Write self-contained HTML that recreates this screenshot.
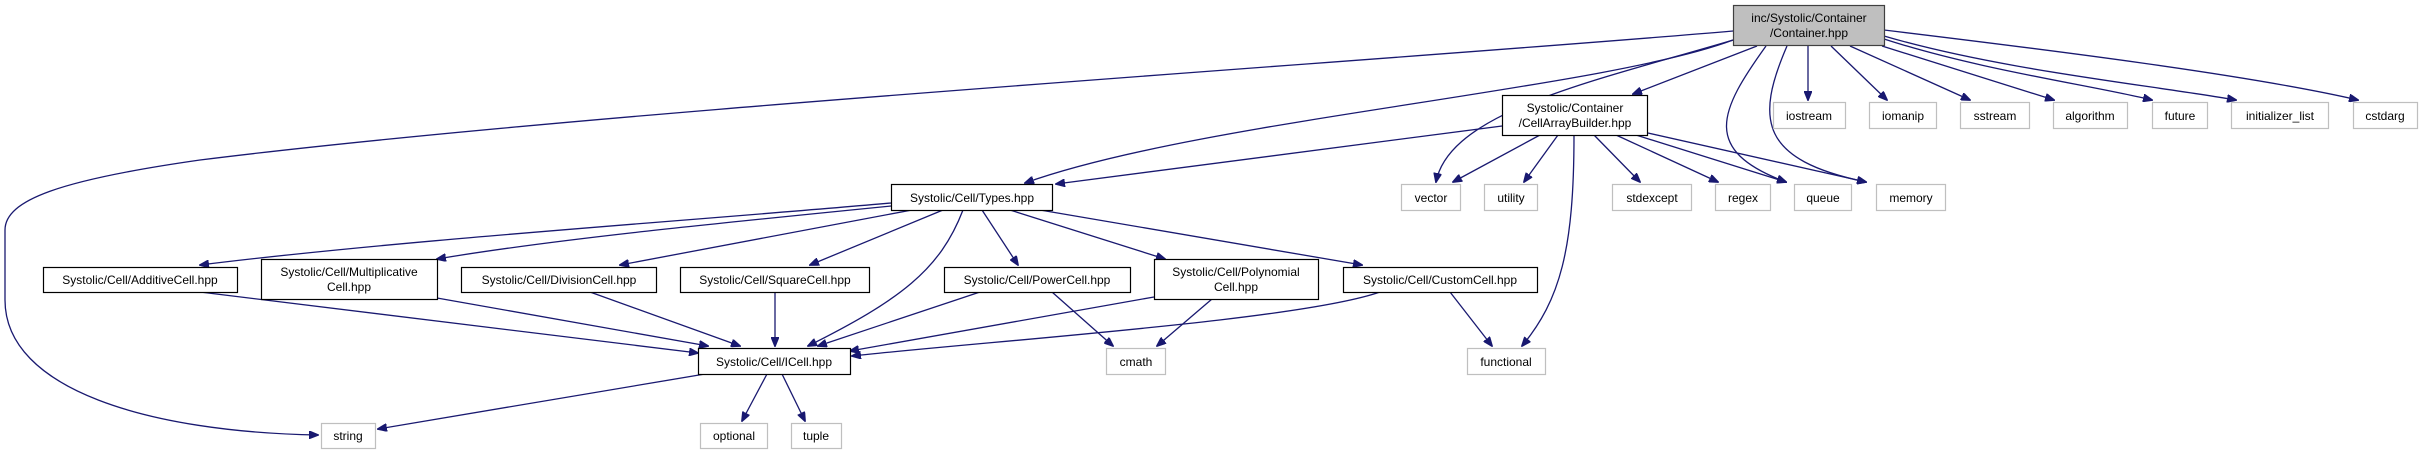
<!DOCTYPE html>
<html><head><meta charset="utf-8"><style>
html,body{margin:0;padding:0;background:#fff;}
svg{display:block;}
text{font-family:"Liberation Sans",sans-serif;font-size:12px;fill:#000;}
</style></head><body>
<svg width="2423" height="455" viewBox="0 0 2423 455" xmlns="http://www.w3.org/2000/svg">
<defs>
<marker id="a" markerWidth="10" markerHeight="8" refX="9" refY="4" orient="auto" markerUnits="userSpaceOnUse">
<path d="M0,0 L10,4 L0,8 z" fill="#191970" stroke="#191970"/>
</marker>
</defs>
<g fill="none" stroke="#191970" stroke-width="1.3" marker-end="url(#a)">
<!-- Container edges -->
<path d="M1733,31 C1400,60 600,110 200,160 C60,180 5,200 5,230 L5,300 C5,390 150,432 318,435"/>
<path d="M1733,40 C1600,90 1200,120 1025,183"/>
<path d="M1740,38 C1600,80 1450,110 1436,182"/>
<path d="M1757,46 L1633,94"/>
<path d="M1766,46 C1720,110 1700,150 1786,182"/>
<path d="M1787,46 C1755,120 1760,160 1866,182"/>
<path d="M1808,46 L1808,100"/>
<path d="M1831,46 L1887,100"/>
<path d="M1850,46 L1970,100"/>
<path d="M1882,46 L2054,100"/>
<path d="M1884,39 C1980,70 2090,85 2152,100"/>
<path d="M1884,36 C2000,70 2150,85 2236,100"/>
<path d="M1884,30 C2050,50 2250,75 2358,100"/>
<!-- CellArrayBuilder edges -->
<path d="M1502,126 L1056,184"/>
<path d="M1540,135 L1453,182"/>
<path d="M1558,135 L1524,182"/>
<path d="M1574,135 C1574,250 1560,300 1522,346"/>
<path d="M1594,135 L1640,182"/>
<path d="M1616,135 L1718,182"/>
<path d="M1636,135 L1786,182"/>
<path d="M1648,133 L1866,182"/>
<!-- Types edges -->
<path d="M891,203 C700,220 400,240 200,265"/>
<path d="M891,206 C700,225 550,240 437,259"/>
<path d="M912,210 L620,265"/>
<path d="M943,210 L810,265"/>
<path d="M963,210 C940,270 900,300 808,346"/>
<path d="M982,210 L1018,265"/>
<path d="M1010,210 L1165,259"/>
<path d="M1040,210 L1362,265"/>
<!-- to ICell -->
<path d="M200,292 L698,353"/>
<path d="M437,298 L708,346"/>
<path d="M590,292 L740,346"/>
<path d="M775,292 L775,346"/>
<path d="M980,292 L818,346"/>
<path d="M1154,297 L850,351"/>
<path d="M1380,292 C1300,320 1000,340 852,356"/>
<path d="M1052,292 L1113,346"/>
<path d="M1212,299 L1157,346"/>
<path d="M1450,292 L1492,346"/>
<!-- ICell out -->
<path d="M705,374 L378,429"/>
<path d="M767,374 L742,421"/>
<path d="M782,374 L805,421"/>
</g>
<!-- nodes -->
<g stroke="#000" stroke-width="1.2" fill="#fff">
<rect x="1733.5" y="5.5" width="151" height="40" fill="#bfbfbf" stroke="#404040"/>
<rect x="1502.5" y="95.5" width="145" height="40"/>
<rect x="891.5" y="184.5" width="161" height="26"/>
<rect x="43.5" y="267.5" width="194" height="25"/>
<rect x="261.5" y="259.5" width="176" height="40"/>
<rect x="461.5" y="267.5" width="195" height="25"/>
<rect x="680.5" y="267.5" width="189" height="25"/>
<rect x="944.5" y="267.5" width="186" height="25"/>
<rect x="1154.5" y="259.5" width="164" height="40"/>
<rect x="1343.5" y="267.5" width="194" height="25"/>
<rect x="698.5" y="348.5" width="152" height="26"/>
</g>
<g stroke="#bfbfbf" stroke-width="1.2" fill="#fff">
<rect x="1773.5" y="102.5" width="72" height="26"/>
<rect x="1869.5" y="102.5" width="67" height="26"/>
<rect x="1960.5" y="102.5" width="69" height="26"/>
<rect x="2053.5" y="102.5" width="74" height="26"/>
<rect x="2152.5" y="102.5" width="55" height="26"/>
<rect x="2231.5" y="102.5" width="97" height="26"/>
<rect x="2353.5" y="102.5" width="64" height="26"/>
<rect x="1401.5" y="184.5" width="59" height="26"/>
<rect x="1484.5" y="184.5" width="53" height="26"/>
<rect x="1612.5" y="184.5" width="79" height="26"/>
<rect x="1715.5" y="184.5" width="55" height="26"/>
<rect x="1794.5" y="184.5" width="57" height="26"/>
<rect x="1876.5" y="184.5" width="69" height="26"/>
<rect x="1106.5" y="348.5" width="59" height="26"/>
<rect x="1467.5" y="348.5" width="78" height="26"/>
<rect x="321.5" y="423.5" width="54" height="25"/>
<rect x="700.5" y="423.5" width="67" height="25"/>
<rect x="791.5" y="423.5" width="50" height="25"/>
</g>
<g text-anchor="middle">
<text x="1809" y="22">inc/Systolic/Container</text>
<text x="1809" y="37">/Container.hpp</text>
<text x="1575" y="112">Systolic/Container</text>
<text x="1575" y="127">/CellArrayBuilder.hpp</text>
<text x="972" y="202">Systolic/Cell/Types.hpp</text>
<text x="140" y="284">Systolic/Cell/AdditiveCell.hpp</text>
<text x="349" y="276">Systolic/Cell/Multiplicative</text>
<text x="349" y="291">Cell.hpp</text>
<text x="559" y="284">Systolic/Cell/DivisionCell.hpp</text>
<text x="775" y="284">Systolic/Cell/SquareCell.hpp</text>
<text x="1037" y="284">Systolic/Cell/PowerCell.hpp</text>
<text x="1236" y="276">Systolic/Cell/Polynomial</text>
<text x="1236" y="291">Cell.hpp</text>
<text x="1440" y="284">Systolic/Cell/CustomCell.hpp</text>
<text x="774" y="366">Systolic/Cell/ICell.hpp</text>
<text x="1809" y="120">iostream</text>
<text x="1903" y="120">iomanip</text>
<text x="1995" y="120">sstream</text>
<text x="2090" y="120">algorithm</text>
<text x="2180" y="120">future</text>
<text x="2280" y="120">initializer_list</text>
<text x="2385" y="120">cstdarg</text>
<text x="1431" y="202">vector</text>
<text x="1511" y="202">utility</text>
<text x="1652" y="202">stdexcept</text>
<text x="1743" y="202">regex</text>
<text x="1823" y="202">queue</text>
<text x="1911" y="202">memory</text>
<text x="1136" y="366">cmath</text>
<text x="1506" y="366">functional</text>
<text x="348" y="440">string</text>
<text x="734" y="440">optional</text>
<text x="816" y="440">tuple</text>
</g>
</svg>
</body></html>
